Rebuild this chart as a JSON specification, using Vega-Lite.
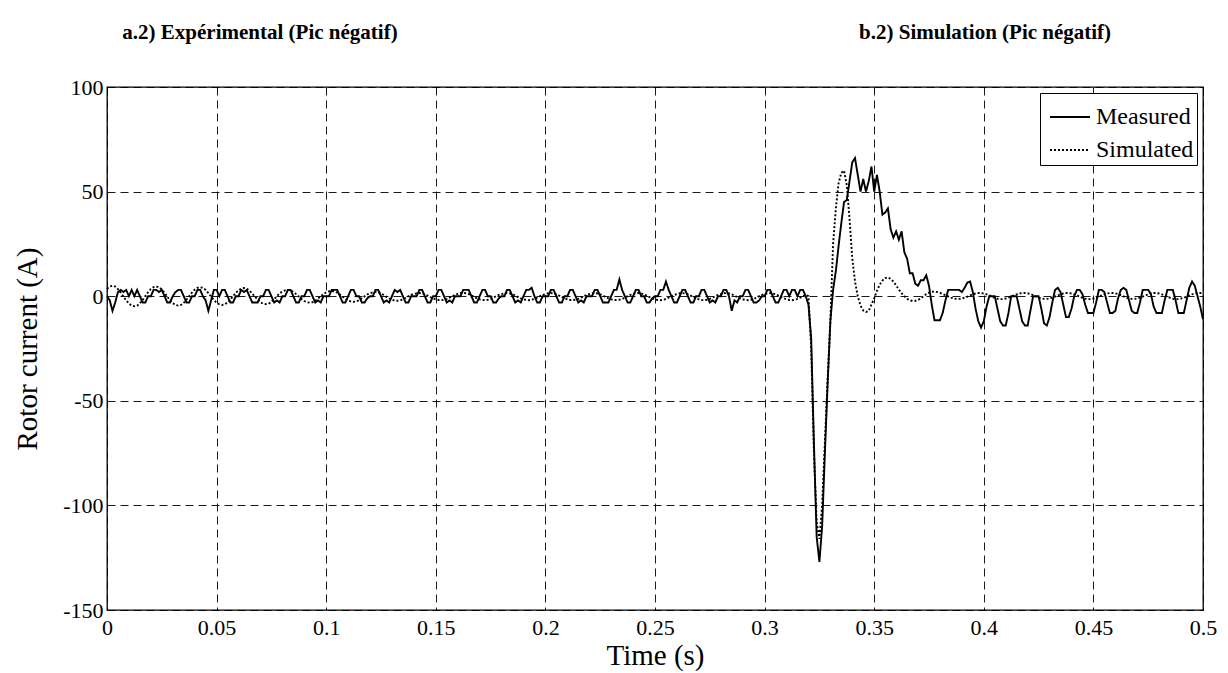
{
"$schema": "https://vega.github.io/schema/vega-lite/v6.json",
"width": 1096, "height": 523,
"autosize": {"type": "none"},
"padding": {"left": 107, "top": 87, "right": 25, "bottom": 63},
"background": "white",
"config": {"view": {"stroke": "black", "strokeWidth": 1.3}, "font": "Liberation Serif",
  "axis": {"labelFont": "Liberation Serif", "titleFont": "Liberation Serif"},
  "legend": {"labelFont": "Liberation Serif"},
  "text": {"font": "Liberation Serif"}},
"layer": [
{"data": {"values": [
{"t":0,"m":0,"s":3.5},{"t":0.00125,"m":-2,"s":4.6},{"t":0.0025,"m":-7,"s":5},{"t":0.00375,"m":-3,"s":4.6},{"t":0.005,"m":2,"s":3.4},{"t":0.00625,"m":3,"s":1.7},{"t":0.0075,"m":2,"s":-0.2},{"t":0.00875,"m":3,"s":-2},
{"t":0.01,"m":0,"s":-3.5},{"t":0.01125,"m":3,"s":-4.5},{"t":0.0125,"m":0,"s":-4.8},{"t":0.01375,"m":3,"s":-4.5},{"t":0.015,"m":0,"s":-3.4},{"t":0.01625,"m":-3,"s":-1.8},{"t":0.0175,"m":-3,"s":0.1},{"t":0.01875,"m":0,"s":1.9},
{"t":0.02,"m":0,"s":3.4},{"t":0.02125,"m":3,"s":4.3},{"t":0.0225,"m":3,"s":4.6},{"t":0.02375,"m":2,"s":4.3},{"t":0.025,"m":3,"s":3.2},{"t":0.02625,"m":0,"s":1.6},{"t":0.0275,"m":-3,"s":-0.2},{"t":0.02875,"m":-3,"s":-2},
{"t":0.03,"m":0,"s":-3.3},{"t":0.03125,"m":2,"s":-4.2},{"t":0.0325,"m":3,"s":-4.5},{"t":0.03375,"m":3,"s":-4.2},{"t":0.035,"m":0,"s":-3.2},{"t":0.03625,"m":-3,"s":-1.7},{"t":0.0375,"m":-3,"s":0},{"t":0.03875,"m":0,"s":1.7},
{"t":0.04,"m":0,"s":3.1},{"t":0.04125,"m":3,"s":4},{"t":0.0425,"m":3,"s":4.3},{"t":0.04375,"m":0,"s":4},{"t":0.045,"m":-2,"s":3},{"t":0.04625,"m":-7,"s":1.5},{"t":0.0475,"m":-2,"s":-0.2},{"t":0.04875,"m":3,"s":-1.8},
{"t":0.05,"m":3,"s":-3.1},{"t":0.05125,"m":0,"s":-3.9},{"t":0.0525,"m":3,"s":-4.2},{"t":0.05375,"m":3,"s":-3.9},{"t":0.055,"m":0,"s":-3},{"t":0.05625,"m":-3,"s":-1.6},{"t":0.0575,"m":-3,"s":0},{"t":0.05875,"m":0,"s":1.6},
{"t":0.06,"m":0,"s":2.8},{"t":0.06125,"m":3,"s":3.6},{"t":0.0625,"m":2,"s":3.9},{"t":0.06375,"m":3,"s":3.6},{"t":0.065,"m":0,"s":2.7},{"t":0.06625,"m":-3,"s":1.3},{"t":0.0675,"m":-3,"s":-0.2},{"t":0.06875,"m":-3,"s":-1.7},
{"t":0.07,"m":0,"s":-2.9},{"t":0.07125,"m":0,"s":-3.6},{"t":0.0725,"m":3,"s":-3.8},{"t":0.07375,"m":3,"s":-3.6},{"t":0.075,"m":0,"s":-2.7},{"t":0.07625,"m":-3,"s":-1.4},{"t":0.0775,"m":-2,"s":0},{"t":0.07875,"m":-3,"s":1.4},
{"t":0.08,"m":0,"s":2.2},{"t":0.08125,"m":0,"s":2.8},{"t":0.0825,"m":3,"s":3},{"t":0.08375,"m":3,"s":2.8},{"t":0.085,"m":0,"s":2.1},{"t":0.08625,"m":-3,"s":1},{"t":0.0875,"m":-3,"s":-0.2},{"t":0.08875,"m":0,"s":-1.4},
{"t":0.09,"m":0,"s":-2.3},{"t":0.09125,"m":3,"s":-2.9},{"t":0.0925,"m":3,"s":-3.1},{"t":0.09375,"m":0,"s":-2.9},{"t":0.095,"m":-3,"s":-2.2},{"t":0.09625,"m":-2,"s":-1.2},{"t":0.0975,"m":-3,"s":0},{"t":0.09875,"m":0,"s":1.1},
{"t":0.1,"m":0,"s":1.8},{"t":0.10125,"m":0,"s":2.3},{"t":0.1025,"m":3,"s":2.5},{"t":0.10375,"m":3,"s":2.3},{"t":0.105,"m":3,"s":1.7},{"t":0.10625,"m":0,"s":0.8},{"t":0.1075,"m":-3,"s":-0.3},{"t":0.10875,"m":-3,"s":-1.3},
{"t":0.11,"m":0,"s":-2},{"t":0.11125,"m":3,"s":-2.5},{"t":0.1125,"m":3,"s":-2.7},{"t":0.11375,"m":0,"s":-2.5},{"t":0.115,"m":0,"s":-1.9},{"t":0.11625,"m":-3,"s":-1},{"t":0.1175,"m":-3,"s":0},{"t":0.11875,"m":-1,"s":0.9},
{"t":0.12,"m":0,"s":1.4},{"t":0.12125,"m":0,"s":1.8},{"t":0.1225,"m":3,"s":2},{"t":0.12375,"m":3,"s":1.8},{"t":0.125,"m":0,"s":1.3},{"t":0.12625,"m":-3,"s":0.6},{"t":0.1275,"m":-2,"s":-0.3},{"t":0.12875,"m":-3,"s":-1.1},
{"t":0.13,"m":0,"s":-1.7},{"t":0.13125,"m":3,"s":-2.1},{"t":0.1325,"m":2,"s":-2.2},{"t":0.13375,"m":3,"s":-2},{"t":0.135,"m":0,"s":-1.5},{"t":0.13625,"m":-3,"s":-0.8},{"t":0.1375,"m":-3,"s":0},{"t":0.13875,"m":0,"s":0.7},
{"t":0.14,"m":0,"s":1},{"t":0.14125,"m":0,"s":1.4},{"t":0.1425,"m":3,"s":1.5},{"t":0.14375,"m":3,"s":1.3},{"t":0.145,"m":0,"s":0.9},{"t":0.14625,"m":-3,"s":0.3},{"t":0.1475,"m":-3,"s":-0.4},{"t":0.14875,"m":0,"s":-1},
{"t":0.15,"m":0,"s":-1.5},{"t":0.15125,"m":3,"s":-1.8},{"t":0.1525,"m":3,"s":-1.9},{"t":0.15375,"m":0,"s":-1.7},{"t":0.155,"m":-3,"s":-1.3},{"t":0.15625,"m":-2,"s":-0.7},{"t":0.1575,"m":-3,"s":0},{"t":0.15875,"m":0,"s":0.6},
{"t":0.16,"m":0,"s":1.1},{"t":0.16125,"m":0,"s":1.5},{"t":0.1625,"m":3,"s":1.6},{"t":0.16375,"m":3,"s":1.4},{"t":0.165,"m":3,"s":1},{"t":0.16625,"m":0,"s":0.4},{"t":0.1675,"m":-3,"s":-0.3},{"t":0.16875,"m":-3,"s":-1},
{"t":0.17,"m":0,"s":-1.5},{"t":0.17125,"m":3,"s":-1.8},{"t":0.1725,"m":3,"s":-1.9},{"t":0.17375,"m":0,"s":-1.7},{"t":0.175,"m":0,"s":-1.3},{"t":0.17625,"m":-3,"s":-0.7},{"t":0.1775,"m":-3,"s":0},{"t":0.17875,"m":-1,"s":0.6},
{"t":0.18,"m":0,"s":1},{"t":0.18125,"m":0,"s":1.4},{"t":0.1825,"m":3,"s":1.5},{"t":0.18375,"m":3,"s":1.3},{"t":0.185,"m":0,"s":0.9},{"t":0.18625,"m":-3,"s":0.3},{"t":0.1875,"m":-2,"s":-0.4},{"t":0.18875,"m":-3,"s":-1},
{"t":0.19,"m":0,"s":-1.5},{"t":0.19125,"m":3,"s":-1.8},{"t":0.1925,"m":3,"s":-1.9},{"t":0.19375,"m":4,"s":-1.7},{"t":0.195,"m":0,"s":-1.3},{"t":0.19625,"m":-3,"s":-0.7},{"t":0.1975,"m":-3,"s":0},{"t":0.19875,"m":0,"s":0.6},
{"t":0.2,"m":0,"s":1},{"t":0.20125,"m":0,"s":1.4},{"t":0.2025,"m":3,"s":1.5},{"t":0.20375,"m":3,"s":1.3},{"t":0.205,"m":0,"s":0.9},{"t":0.20625,"m":-3,"s":0.3},{"t":0.2075,"m":-3,"s":-0.4},{"t":0.20875,"m":0,"s":-1},
{"t":0.21,"m":0,"s":-1.5},{"t":0.21125,"m":3,"s":-1.8},{"t":0.2125,"m":3,"s":-1.9},{"t":0.21375,"m":0,"s":-1.7},{"t":0.215,"m":-3,"s":-1.3},{"t":0.21625,"m":-2,"s":-0.7},{"t":0.2175,"m":-3,"s":0},{"t":0.21875,"m":0,"s":0.6},
{"t":0.22,"m":0,"s":1},{"t":0.22125,"m":0,"s":1.4},{"t":0.2225,"m":3,"s":1.5},{"t":0.22375,"m":3,"s":1.3},{"t":0.225,"m":0,"s":0.9},{"t":0.22625,"m":-3,"s":0.3},{"t":0.2275,"m":-3,"s":-0.4},{"t":0.22875,"m":-3,"s":-1},
{"t":0.23,"m":0,"s":-1.5},{"t":0.23125,"m":3,"s":-1.8},{"t":0.2325,"m":3,"s":-1.9},{"t":0.23375,"m":8,"s":-1.7},{"t":0.235,"m":3,"s":-1.3},{"t":0.23625,"m":0,"s":-0.7},{"t":0.2375,"m":-3,"s":0},{"t":0.23875,"m":-3,"s":0.6},
{"t":0.24,"m":0,"s":1},{"t":0.24125,"m":3,"s":1.4},{"t":0.2425,"m":3,"s":1.5},{"t":0.24375,"m":0,"s":1.3},{"t":0.245,"m":0,"s":0.9},{"t":0.24625,"m":-3,"s":0.3},{"t":0.2475,"m":-3,"s":-0.4},{"t":0.24875,"m":-1,"s":-1},
{"t":0.25,"m":0,"s":-1.5},{"t":0.25125,"m":0,"s":-1.8},{"t":0.2525,"m":3,"s":-1.9},{"t":0.25375,"m":3,"s":-1.7},{"t":0.255,"m":7,"s":-1.3},{"t":0.25625,"m":3,"s":-0.7},{"t":0.2575,"m":0,"s":0},{"t":0.25875,"m":-3,"s":0.6},
{"t":0.26,"m":-3,"s":1},{"t":0.26125,"m":0,"s":1.4},{"t":0.2625,"m":3,"s":1.5},{"t":0.26375,"m":3,"s":1.3},{"t":0.265,"m":0,"s":0.9},{"t":0.26625,"m":-3,"s":0.3},{"t":0.2675,"m":-3,"s":-0.4},{"t":0.26875,"m":0,"s":-1},
{"t":0.27,"m":0,"s":-1.5},{"t":0.27125,"m":3,"s":-1.8},{"t":0.2725,"m":3,"s":-1.9},{"t":0.27375,"m":0,"s":-1.7},{"t":0.275,"m":-3,"s":-1.3},{"t":0.27625,"m":-2,"s":-0.7},{"t":0.2775,"m":-3,"s":0},{"t":0.27875,"m":0,"s":0.6},
{"t":0.28,"m":0,"s":1},{"t":0.28125,"m":3,"s":1.4},{"t":0.2825,"m":3,"s":1.5},{"t":0.28375,"m":0,"s":1.3},{"t":0.285,"m":-7,"s":0.9},{"t":0.28625,"m":-2,"s":0.3},{"t":0.2875,"m":-3,"s":-0.4},{"t":0.28875,"m":0,"s":-1},
{"t":0.29,"m":0,"s":-1.5},{"t":0.29125,"m":3,"s":-1.8},{"t":0.2925,"m":3,"s":-1.9},{"t":0.29375,"m":0,"s":-1.7},{"t":0.295,"m":-3,"s":-1.3},{"t":0.29625,"m":-3,"s":-0.7},{"t":0.2975,"m":-2,"s":0},{"t":0.29875,"m":0,"s":0.6},
{"t":0.3,"m":0,"s":1},{"t":0.30125,"m":3,"s":1.4},{"t":0.3025,"m":3,"s":1.5},{"t":0.30375,"m":0,"s":1.3},{"t":0.305,"m":-3,"s":0.9},{"t":0.30625,"m":-3,"s":0.3},{"t":0.3075,"m":0,"s":-0.4},{"t":0.30875,"m":3,"s":-1},
{"t":0.31,"m":3,"s":-1.5},{"t":0.31125,"m":0,"s":-1.8},{"t":0.3125,"m":3,"s":-1.9},{"t":0.31375,"m":3,"s":-1.7},{"t":0.315,"m":0,"s":-1.3},{"t":0.31625,"m":3,"s":-0.7},{"t":0.3175,"m":3,"s":0},{"t":0.31875,"m":0,"s":0.6},
{"t":0.32,"m":-4,"s":0},{"t":0.32125,"m":-20,"s":-25},{"t":0.3225,"m":-70,"s":-75},{"t":0.32375,"m":-115,"s":-108},{"t":0.325,"m":-127,"s":-116},{"t":0.32625,"m":-110,"s":-100},{"t":0.3275,"m":-75,"s":-70},{"t":0.32875,"m":-42,"s":-40},
{"t":0.33,"m":-12,"s":-12},{"t":0.33125,"m":3,"s":25},{"t":0.3325,"m":12,"s":42},{"t":0.33375,"m":24,"s":54},{"t":0.335,"m":35,"s":59},{"t":0.33625,"m":45,"s":60},{"t":0.3375,"m":46,"s":53},{"t":0.33875,"m":55,"s":37},
{"t":0.34,"m":64,"s":18},{"t":0.34125,"m":66,"s":7},{"t":0.3425,"m":58,"s":0},{"t":0.34375,"m":50,"s":-4.5},{"t":0.345,"m":56,"s":-6.8},{"t":0.34625,"m":50,"s":-7.5},{"t":0.3475,"m":55,"s":-7},{"t":0.34875,"m":62,"s":-4},
{"t":0.35,"m":50,"s":-1},{"t":0.35125,"m":58,"s":2.5},{"t":0.3525,"m":50,"s":5.5},{"t":0.35375,"m":39,"s":7.5},{"t":0.355,"m":40,"s":8.7},{"t":0.35625,"m":42,"s":9},{"t":0.3575,"m":32,"s":8.3},{"t":0.35875,"m":28,"s":7},
{"t":0.36,"m":31,"s":5.2},{"t":0.36125,"m":27,"s":3.2},{"t":0.3625,"m":31,"s":1.4},{"t":0.36375,"m":21,"s":0},{"t":0.365,"m":18,"s":-1.2},{"t":0.36625,"m":11,"s":-2},{"t":0.3675,"m":11,"s":-2.3},{"t":0.36875,"m":6,"s":-2.2},
{"t":0.37,"m":5,"s":-1.8},{"t":0.37125,"m":7.6,"s":-1},{"t":0.3725,"m":7.6,"s":0},{"t":0.37375,"m":10,"s":1},{"t":0.375,"m":5,"s":1.7},{"t":0.37625,"m":-4,"s":2.1},{"t":0.3775,"m":-11.5,"s":2.2},{"t":0.37875,"m":-11.5,"s":2},
{"t":0.38,"m":-11.5,"s":1.6},{"t":0.38125,"m":-8,"s":1.1},{"t":0.3825,"m":-2,"s":0.5},{"t":0.38375,"m":3,"s":-0.1},{"t":0.385,"m":3,"s":-0.7},{"t":0.38625,"m":3,"s":-1.1},{"t":0.3875,"m":3,"s":-1.3},{"t":0.38875,"m":3,"s":-1.3},
{"t":0.39,"m":2,"s":-1.1},{"t":0.39125,"m":4,"s":-0.7},{"t":0.3925,"m":6.5,"s":-0.2},{"t":0.39375,"m":7,"s":0.4},{"t":0.395,"m":2,"s":0.9},{"t":0.39625,"m":-6,"s":1.3},{"t":0.3975,"m":-12,"s":1.5},{"t":0.39875,"m":-15,"s":1.5},
{"t":0.4,"m":-12,"s":1.3},{"t":0.40125,"m":-5,"s":0.9},{"t":0.4025,"m":0,"s":0.4},{"t":0.40375,"m":0,"s":-0.2},{"t":0.405,"m":0,"s":-0.8},{"t":0.40625,"m":-6,"s":-1.2},{"t":0.4075,"m":-12,"s":-1.4},{"t":0.40875,"m":-14,"s":-1.4},
{"t":0.41,"m":-14,"s":-1.1},{"t":0.41125,"m":-8,"s":-0.7},{"t":0.4125,"m":0,"s":-0.2},{"t":0.41375,"m":0,"s":0.4},{"t":0.415,"m":0,"s":0.9},{"t":0.41625,"m":-6,"s":1.3},{"t":0.4175,"m":-12,"s":1.5},{"t":0.41875,"m":-14,"s":1.5},
{"t":0.42,"m":-14,"s":1.4},{"t":0.42125,"m":-7,"s":1},{"t":0.4225,"m":0,"s":0.5},{"t":0.42375,"m":0,"s":-0.1},{"t":0.425,"m":0,"s":-0.7},{"t":0.42625,"m":-6,"s":-1.1},{"t":0.4275,"m":-13,"s":-1.3},{"t":0.42875,"m":-14,"s":-1.3},
{"t":0.43,"m":-10,"s":-1.1},{"t":0.43125,"m":-3,"s":-0.7},{"t":0.4325,"m":3,"s":-0.2},{"t":0.43375,"m":4,"s":0.4},{"t":0.435,"m":2,"s":0.9},{"t":0.43625,"m":-4,"s":1.3},{"t":0.4375,"m":-10,"s":1.5},{"t":0.43875,"m":-10,"s":1.5},
{"t":0.44,"m":-6,"s":1.3},{"t":0.44125,"m":0,"s":0.9},{"t":0.4425,"m":3,"s":0.4},{"t":0.44375,"m":3,"s":-0.2},{"t":0.445,"m":1,"s":-0.8},{"t":0.44625,"m":-4,"s":-1.2},{"t":0.4475,"m":-8,"s":-1.4},{"t":0.44875,"m":-8,"s":-1.4},
{"t":0.45,"m":-8,"s":-1.1},{"t":0.45125,"m":-3,"s":-0.7},{"t":0.4525,"m":3,"s":-0.2},{"t":0.45375,"m":3,"s":0.4},{"t":0.455,"m":2,"s":0.9},{"t":0.45625,"m":-3,"s":1.3},{"t":0.4575,"m":-8,"s":1.5},{"t":0.45875,"m":-8,"s":1.5},
{"t":0.46,"m":-7,"s":1.4},{"t":0.46125,"m":-1,"s":1},{"t":0.4625,"m":3,"s":0.5},{"t":0.46375,"m":4,"s":-0.1},{"t":0.465,"m":3,"s":-0.7},{"t":0.46625,"m":-2,"s":-1.1},{"t":0.4675,"m":-7,"s":-1.3},{"t":0.46875,"m":-8,"s":-1.3},
{"t":0.47,"m":-8,"s":-1.1},{"t":0.47125,"m":-3,"s":-0.7},{"t":0.4725,"m":3,"s":-0.2},{"t":0.47375,"m":3,"s":0.4},{"t":0.475,"m":3,"s":0.9},{"t":0.47625,"m":1,"s":1.3},{"t":0.4775,"m":-5,"s":1.5},{"t":0.47875,"m":-8,"s":1.5},
{"t":0.48,"m":-8,"s":1.3},{"t":0.48125,"m":-8,"s":0.9},{"t":0.4825,"m":-2,"s":0.4},{"t":0.48375,"m":3,"s":-0.2},{"t":0.485,"m":3,"s":-0.8},{"t":0.48625,"m":3,"s":-1.2},{"t":0.4875,"m":-2,"s":-1.4},{"t":0.48875,"m":-8,"s":-1.4},
{"t":0.49,"m":-8,"s":-1.1},{"t":0.49125,"m":-8,"s":-0.7},{"t":0.4925,"m":-2,"s":-0.2},{"t":0.49375,"m":4,"s":0.4},{"t":0.495,"m":7,"s":0.9},{"t":0.49625,"m":5,"s":1.3},{"t":0.4975,"m":0,"s":1.5},{"t":0.49875,"m":-5,"s":1.5},
{"t":0.5,"m":-11,"s":1.4}
]},
"transform": [{"fold": ["m", "s"], "as": ["series", "value"]}],
"mark": {"type": "line", "color": "black", "strokeWidth": 1.9},
"encoding": {
  "x": {"field": "t", "type": "quantitative",
        "scale": {"domain": [0, 0.5], "nice": false},
        "axis": {"values": [0,0.05,0.1,0.15,0.2,0.25,0.3,0.35,0.4,0.45,0.5], "labelExpr": "toString(datum.value)",
                 "title": "Time (s)", "titleFont": "Liberation Serif", "titleFontSize": 29, "titleFontWeight": "normal", "titleColor": "black", "titlePadding": 3,
                 "labelFont": "Liberation Serif", "labelFontSize": 22, "labelColor": "black", "labelPadding": 7, "labelFlush": false,
                 "grid": true, "gridColor": "black", "gridDash": [8, 5], "gridWidth": 0.9, "gridOpacity": 1,
                 "domain": false, "ticks": false}},
  "y": {"field": "value", "type": "quantitative",
        "scale": {"domain": [-150, 100], "nice": false},
        "axis": {"values": [-150,-100,-50,0,50,100], "labelExpr": "toString(datum.value)",
                 "title": "Rotor current (A)", "titleFont": "Liberation Serif", "titleFontSize": 29, "titleFontWeight": "normal", "titleColor": "black", "titlePadding": 20,
                 "labelFont": "Liberation Serif", "labelFontSize": 22, "labelColor": "black", "labelPadding": 4, "labelFlush": false,
                 "grid": true, "gridColor": "black", "gridDash": [8, 5], "gridWidth": 0.9, "gridOpacity": 1,
                 "domain": false, "ticks": false}},
  "strokeDash": {"field": "series", "type": "nominal",
        "scale": {"domain": ["m", "s"], "range": [[1, 0], [2, 2]]},
        "legend": {"title": null, "orient": "top-right", "offset": 6,
                   "strokeColor": "black", "fillColor": "white", "padding": 3, "cornerRadius": 0,
                   "labelFont": "Liberation Serif", "labelFontSize": 24, "labelColor": "black",
                   "symbolType": "stroke", "symbolSize": 1600, "symbolStrokeWidth": 1.8, "symbolStrokeColor": "black",
                   "symbolOffset": 6, "rowPadding": 0, "labelOffset": 5,
                   "labelExpr": "datum.label == 'm' ? 'Measured' : 'Simulated'"}}
}},
{"data": {"values": [{}]},
 "mark": {"type": "text", "font": "Liberation Serif", "fontWeight": "bold", "fontSize": 21, "color": "black"},
 "encoding": {"x": {"datum": 0.0698, "type": "quantitative"}, "y": {"datum": 126, "type": "quantitative"}, "text": {"value": "a.2) Expérimental (Pic négatif)"}}},
{"data": {"values": [{}]},
 "mark": {"type": "text", "font": "Liberation Serif", "fontWeight": "bold", "fontSize": 21, "color": "black"},
 "encoding": {"x": {"datum": 0.4006, "type": "quantitative"}, "y": {"datum": 126, "type": "quantitative"}, "text": {"value": "b.2) Simulation (Pic négatif)"}}}
]
}
